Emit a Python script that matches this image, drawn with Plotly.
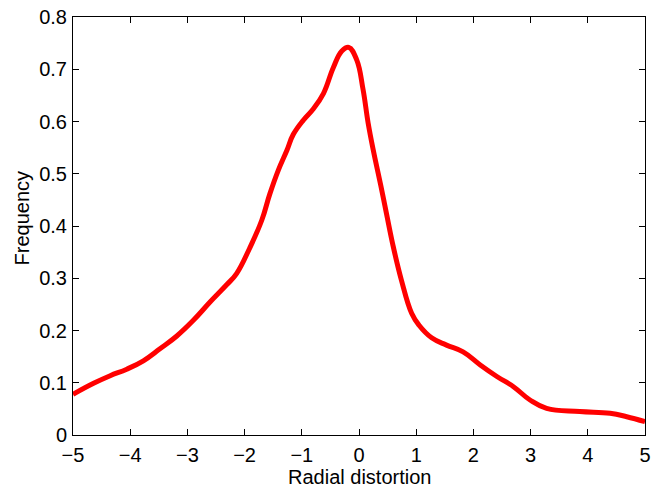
import plotly.graph_objects as go

radial_distortion = [-5.0, -4.64, -4.35, -4.06, -3.77, -3.48, -3.19, -2.90, -2.60, -2.31, -2.14,
                     -1.91, -1.70, -1.56, -1.41, -1.26, -1.15, -0.97, -0.80, -0.62, -0.45, -0.30,
                     -0.18, -0.04, 0.07, 0.16, 0.25, 0.38, 0.48, 0.60, 0.74, 0.92, 1.05, 1.27,
                     1.53, 1.82, 2.12, 2.41, 2.70, 2.99, 3.28, 3.86, 4.39, 4.68, 5.0]
frequency = [0.078, 0.099, 0.1135, 0.126, 0.142, 0.165, 0.189, 0.219, 0.255, 0.288, 0.309,
             0.358, 0.411, 0.461, 0.507, 0.545, 0.575, 0.603, 0.624, 0.654, 0.703, 0.735,
             0.742, 0.718, 0.662, 0.597, 0.545, 0.478, 0.424, 0.360, 0.297, 0.233, 0.210, 0.186,
             0.172, 0.159, 0.134, 0.112, 0.0925, 0.067, 0.051, 0.045, 0.0415, 0.035, 0.0255]

x_ticks = [-5, -4, -3, -2, -1, 0, 1, 2, 3, 4, 5]
y_ticks = [0, 0.1, 0.2, 0.3, 0.4, 0.5, 0.6, 0.7, 0.8]
y_tick_labels = ["0", "0.1", "0.2", "0.3", "0.4", "0.5", "0.6", "0.7", "0.8"]
x_title = "Radial distortion"
y_title = "Frequency"

fig = go.Figure()
fig.add_trace(go.Scatter(
    x=radial_distortion, y=frequency, mode="lines",
    line=dict(color="#ff0000", width=5, shape="spline", smoothing=1.2),
    showlegend=False,
))

font = dict(family="Liberation Sans, Arial, sans-serif", size=20, color="black")
axis_common = dict(
    showgrid=False, zeroline=False, showline=True, linecolor="black", linewidth=1,
    mirror="ticks", ticks="inside", ticklen=6, tickcolor="black", tickwidth=1,
    tickfont=font, automargin=False,
)
fig.update_layout(
    width=654, height=488,
    margin=dict(l=73, r=9, t=17, b=53),
    paper_bgcolor="white", plot_bgcolor="white",
    font=font,
    xaxis=dict(range=[-5, 5], tickvals=x_ticks, ticklabelstandoff=2, **axis_common),
    yaxis=dict(range=[0, 0.8], tickvals=y_ticks, ticktext=y_tick_labels,
               ticklabelstandoff=1, **axis_common),
    annotations=[
        dict(text=x_title, xref="paper", yref="paper", x=0.5, y=-0.0995,
             xanchor="center", yanchor="middle", showarrow=False, font=font),
        dict(text=y_title, xref="paper", yref="paper", x=-0.0895, y=0.52,
             xanchor="center", yanchor="middle", textangle=-90, showarrow=False, font=font),
    ],
)
fig.write_html("out.html", config={"displayModeBar": False},
               post_script="document.body.style.margin='0';document.body.style.overflow='hidden';")
